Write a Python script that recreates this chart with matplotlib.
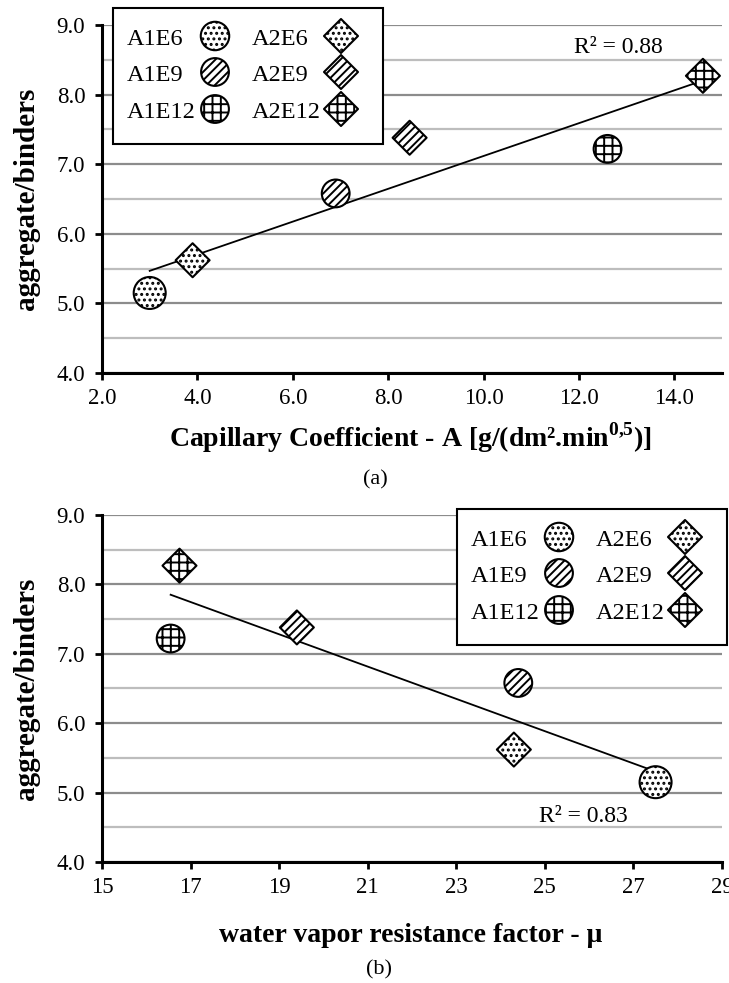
import numpy as np
import matplotlib.pyplot as plt
from matplotlib.patches import Rectangle

# ==== DATA ==================================================

labels = ["A1E6", "A1E9", "A1E12", "A2E6", "A2E9", "A2E12"]
markers = ["o", "o", "o", "D", "D", "D"]
hatches = ["...", "////", "++", "...", "////", "++"]
sizes = [530, 400, 400, 300, 300, 300]

agg_binders = [5.15, 6.58, 7.22, 5.62, 7.38, 8.27]
cap_coef = [3.0, 6.9, 12.6, 3.9, 8.45, 14.6]
mu = [27.5, 24.4, 16.55, 24.3, 19.4, 16.75]

r2_text = ["R² = 0.88", "R² = 0.83"]

# ============================================================

plt.rcParams["font.family"] = ["Liberation Serif", "DejaVu Serif"]
plt.rcParams["mathtext.fontset"] = "custom"
plt.rcParams["mathtext.rm"] = "Liberation Serif:bold"
plt.rcParams["mathtext.bf"] = "Liberation Serif:bold"
plt.rcParams["hatch.linewidth"] = 1.4

W, H = 729, 983
fig = plt.figure(figsize=(W / 100, H / 100), dpi=100)
tf = fig.transFigure


def fx(px):
    return px / W


def fy(py):
    return 1 - py / H


def px_axes(x0, y0, x1, y1):
    return fig.add_axes([fx(x0), fy(y1), (x1 - x0) / W, (y1 - y0) / H])


def style(ax, xlim, xticks, xfmt):
    ax.set_ylim(4, 9)
    ax.set_xlim(*xlim)
    ax.set_yticks(np.arange(4, 9.01, 1.0))
    ax.set_yticks(np.arange(4, 9.01, 0.5), minor=True)
    ax.set_yticklabels([f"{v:.1f}" for v in np.arange(4, 9.01, 1.0)])
    ax.set_xticks(xticks)
    ax.set_xticklabels([xfmt.format(v) for v in xticks])
    ax.grid(axis="y", which="major", color="#8c8c8c", lw=1.6)
    ax.grid(axis="y", which="minor", color="#bdbdbd", lw=1.6)
    ax.set_axisbelow(True)
    for s in ["top", "right"]:
        ax.spines[s].set_visible(False)
    for s in ["left", "bottom"]:
        ax.spines[s].set_linewidth(2.2)
    ax.tick_params(axis="both", which="major", direction="out", length=5,
                   width=2, labelsize=16.5)
    ax.tick_params(axis="x", which="major", pad=6)
    ax.tick_params(axis="y", which="major", pad=7)
    ax.tick_params(axis="y", which="minor", length=0)
    ax.set_ylabel("aggregate/binders", fontsize=21, fontweight="bold")
    ax.yaxis.set_label_coords(-0.1, 0.5)


def draw(ax, xs):
    for i in range(len(labels)):
        ax.scatter(xs[i], agg_binders[i], s=sizes[i], marker=markers[i],
                   facecolor="white", edgecolor="black", linewidths=1.5,
                   hatch=hatches[i], zorder=3)
    k, b = np.polyfit(xs, agg_binders, 1)
    xx = np.array([min(xs), max(xs)])
    ax.plot(xx, k * xx + b, color="black", lw=1.3, zorder=2)


def legend_box(ax, left, top):
    # excel-like legend: 3 rows x 2 cols, label then marker
    ax.add_patch(Rectangle((fx(left), fy(top + 136)), 270 / W, 136 / H,
                           transform=tf, facecolor="white", edgecolor="black",
                           lw=1.5, clip_on=False, zorder=5))
    rows = [29, 65, 102]
    for i, lab in enumerate(labels):
        col, row = divmod(i, 3)
        tx = left + (14 if col == 0 else 139)
        mx = left + (102 if col == 0 else 228)
        yy = top + rows[row]
        ax.text(fx(tx), fy(yy), lab, transform=tf, fontsize=17.5,
                ha="left", va="center_baseline", zorder=6)
        ax.scatter([fx(mx)], [fy(yy - 1)], s=min(sizes[i], 420),
                   marker=markers[i], facecolor="white", edgecolor="black",
                   linewidths=1.5, hatch=hatches[i], transform=tf,
                   clip_on=False, zorder=6)


# ---- (a) capillary coefficient
ax1 = px_axes(102, 25, 722, 373)
style(ax1, (2, 15), np.arange(2, 15, 2.0), "{:.1f}")
draw(ax1, cap_coef)
ax1.text(13.76, 8.67, r2_text[0], ha="right", va="center", fontsize=17)
legend_box(ax1, 113, 8)
fig.text(fx(410), fy(438), r"Capillary Coefficient - A [g/(dm².min$^{0{,}5}$)]",
         ha="center", va="center", fontsize=20, fontweight="bold")
fig.text(fx(375), fy(480), "(a)", ha="center", va="center", fontsize=16)

# ---- (b) water vapour resistance
ax2 = px_axes(102, 515, 722, 862)
style(ax2, (15, 29), np.arange(15, 30, 2), "{:d}")
draw(ax2, mu)
ax2.text(24.87, 4.65, r2_text[1], ha="left", va="center", fontsize=17)
legend_box(ax2, 457, 509)
fig.text(fx(411), fy(936), "water vapor resistance factor - μ",
         ha="center", va="center", fontsize=20, fontweight="bold")
fig.text(fx(379), fy(970), "(b)", ha="center", va="center", fontsize=16)

fig.savefig("out.png", dpi=100)
